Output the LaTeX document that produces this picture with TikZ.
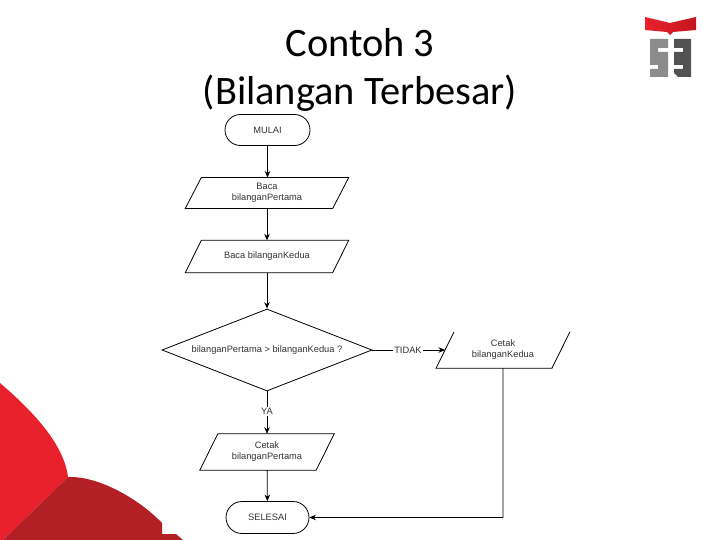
\documentclass[tikz,border=0pt]{standalone}
\usepackage{fontspec}
\setmainfont{Carlito}
\newfontfamily\flowfont{Liberation Sans}
\usetikzlibrary{arrows.meta,shapes.geometric,shapes.misc}
\definecolor{flowink}{HTML}{333333}
\definecolor{brightred}{HTML}{E8212C}
\definecolor{deepred}{HTML}{B21F24}
\definecolor{bookdark}{HTML}{C4161F}
\tikzset{
  flowtext/.style={font=\flowfont\fontsize{9.3}{11}\selectfont,text=flowink,align=center,inner sep=0pt},
  terminal/.style={flowtext,draw=black,line width=0.8pt,rounded rectangle,minimum height=31pt},
  slant/.style={flowtext,minimum height=32pt},
  outline/.style={draw=black,line width=0.8pt},
  link/.style={draw=black,line width=0.8pt},
  arrowlink/.style={link,-{Stealth[length=6.5pt,width=5.5pt]}},
  titletext/.style={font=\fontsize{40.4}{48}\selectfont,text=black,align=center,inner sep=0pt}
}
\begin{document}
\begin{tikzpicture}[x=1pt,y=-1pt]
\useasboundingbox (0,0) rectangle (720,540);
% corner decoration
\fill[brightred] (0,383) .. controls (35,413) and (64,445) .. (68,477) -- (3,540) -- (0,540) -- cycle;
\fill[deepred] (68,477) .. controls (100,476) and (140,500) .. (162,523) -- (162,534) -- (176,534) -- (183,540) -- (3,540) -- cycle;
% logo
\shade[left color=brightred,right color=bookdark] (645,17) -- (670,23) -- (696,17) -- (696,30) -- (673,32) -- (670,35) -- (667,32) -- (645,30) -- cycle;
\fill[gray!90] (650,39) -- (668,39) -- (668,48) -- (658,48) -- (658,52) -- (668,52) -- (668,77) -- (650,77) -- (650,69) -- (658,69) -- (658,65) -- (650,65) -- cycle;
\fill[black!68] (674,39) -- (691,39) -- (691,77) -- (678,77) -- (674,73) -- (674,69) -- (683,69) -- (683,65) -- (674,65) -- (674,52) -- (683,52) -- (683,48) -- (674,48) -- cycle;
% title
\node[titletext] (title) at (360,70) {Contoh 3\\(Bilangan Terbesar)};
% flowchart nodes
\node[terminal,minimum width=85pt] (mulai) at (267.5,130) {MULAI};
\node[slant,minimum width=147pt,minimum height=30.5pt] (baca1) at (267,193) {Baca\\bilanganPertama};
\node[slant,minimum width=147pt] (baca2) at (267,256.5) {Baca bilanganKedua};
\node[flowtext,diamond,outline,minimum width=210pt,minimum height=82pt,aspect=2.56] (cek) at (267,350) {bilanganPertama > bilanganKedua ?};
\node[flowtext,fill=white,inner xsep=1pt] (tidak) at (408,350) {TIDAK};
\node[slant,minimum width=115.5pt,minimum height=36pt] (cetak2) at (503,350) {Cetak\\bilanganKedua};
\node[flowtext,fill=white,inner ysep=1pt] (ya) at (267,411.5) {YA};
\node[slant,minimum width=116pt,minimum height=36pt] (cetak1) at (267,452) {Cetak\\bilanganPertama};
\node[terminal,minimum width=83pt,minimum height=32pt] (selesai) at (267.5,517.5) {SELESAI};
% parallelograms
\draw[outline] ([xshift=8pt]baca1.north west) -- ([xshift=8pt]baca1.north east) -- ([xshift=-8pt]baca1.south east) -- ([xshift=-8pt]baca1.south west) -- cycle;
\draw[outline] ([xshift=8pt]baca2.north west) -- ([xshift=8pt]baca2.north east) -- ([xshift=-8pt]baca2.south east) -- ([xshift=-8pt]baca2.south west) -- cycle;
\draw[outline] ([xshift=9pt]cetak1.north west) -- ([xshift=9pt]cetak1.north east) -- ([xshift=-9pt]cetak1.south east) -- ([xshift=-9pt]cetak1.south west) -- cycle;
% right-hand box: its top edge is not printed
\draw[outline] ([xshift=9pt]cetak2.north west) -- ([xshift=-9pt]cetak2.south west) -- ([xshift=-9pt]cetak2.south east) -- ([xshift=9pt]cetak2.north east);
% connectors
\coordinate (turn) at (cetak2.south |- selesai);
\draw[arrowlink] (mulai) -- (baca1.north -| mulai);
\draw[arrowlink] (baca1) -- (baca2);
\draw[arrowlink] (baca2) -- (cek);
\draw[link] (cek) -- (ya);
\draw[arrowlink] (ya) -- (cetak1);
\draw[arrowlink] (cetak1) -- (selesai);
\draw[link] (cek) -- (tidak);
\draw[arrowlink] (tidak) -- (cetak2.west);
\draw[arrowlink] (cetak2.south) -- (turn) -- (selesai);
\end{tikzpicture}
\end{document}
